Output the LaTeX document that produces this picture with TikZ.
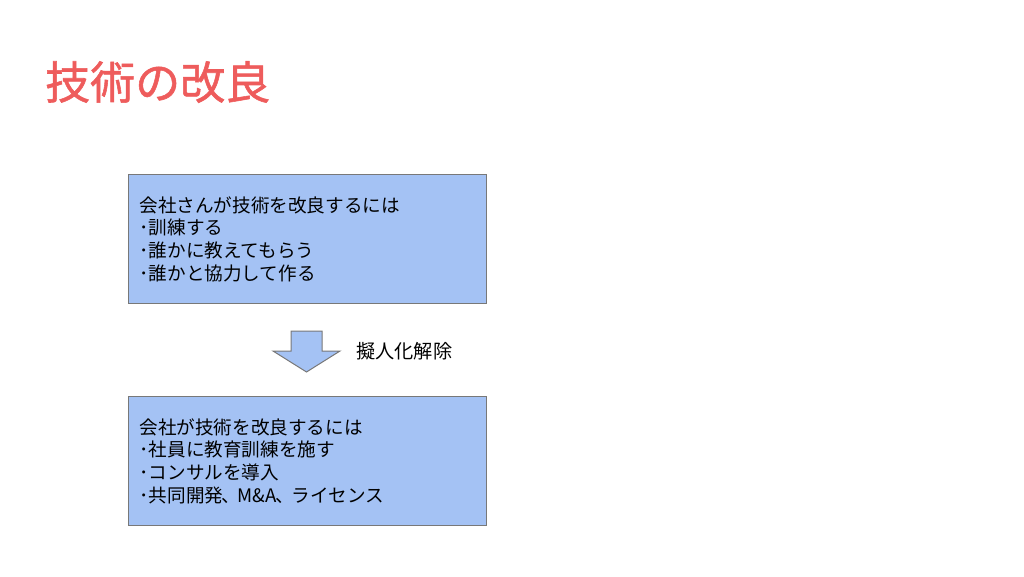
\documentclass[tikz,border=0pt]{standalone}
\usepackage{fontspec}
\setmainfont{Noto Sans CJK JP}
\newfontfamily\titlefont[FakeBold=1.2]{Noto Sans CJK JP}
\definecolor{titlered}{RGB}{238,92,92}
\definecolor{boxblue}{RGB}{164,194,244}
\definecolor{boxline}{RGB}{120,120,120}
\newcommand{\tcomma}{\kern-1.5pt 、\kern-2.5pt}
\begin{document}
\begin{tikzpicture}[x=1pt,y=-1pt,
  box/.style={draw=boxline,line width=1pt,fill=boxblue,anchor=north west,
    minimum width=358pt,minimum height=129pt,inner xsep=11pt,inner ysep=0pt,
    text width=336pt,align=left,font=\fontsize{18.6pt}{22.7pt}\selectfont},
  plain/.style={inner sep=0pt}]
\useasboundingbox (0,0) rectangle (1024,576);
\node[plain,anchor=west,text=titlered,font=\titlefont\fontsize{45pt}{52pt}\selectfont] (title) at (45,82) {技術の改良};
\node[box] (b1) at (128,174) {会社さんが技術を改良するには\\･訓練する\\･誰かに教えてもらう\\･誰かと協力して作る};
\node[box] (b2) at (128,396) {会社が技術を改良するには\\･社員に教育訓練を施す\\･コンサルを導入\\･共同開発\tcomma M\&A\tcomma ライセンス};
\draw[draw=boxline,line width=1pt,fill=boxblue]
  (291,331) -- (322,331) -- (322,351) -- (340,351) -- (306.5,372) -- (273,351) -- (291,351) -- cycle;
\node[plain,anchor=west,font=\fontsize{19.2pt}{22pt}\selectfont] (lbl) at (356,351) {擬人化解除};
\end{tikzpicture}
\end{document}
